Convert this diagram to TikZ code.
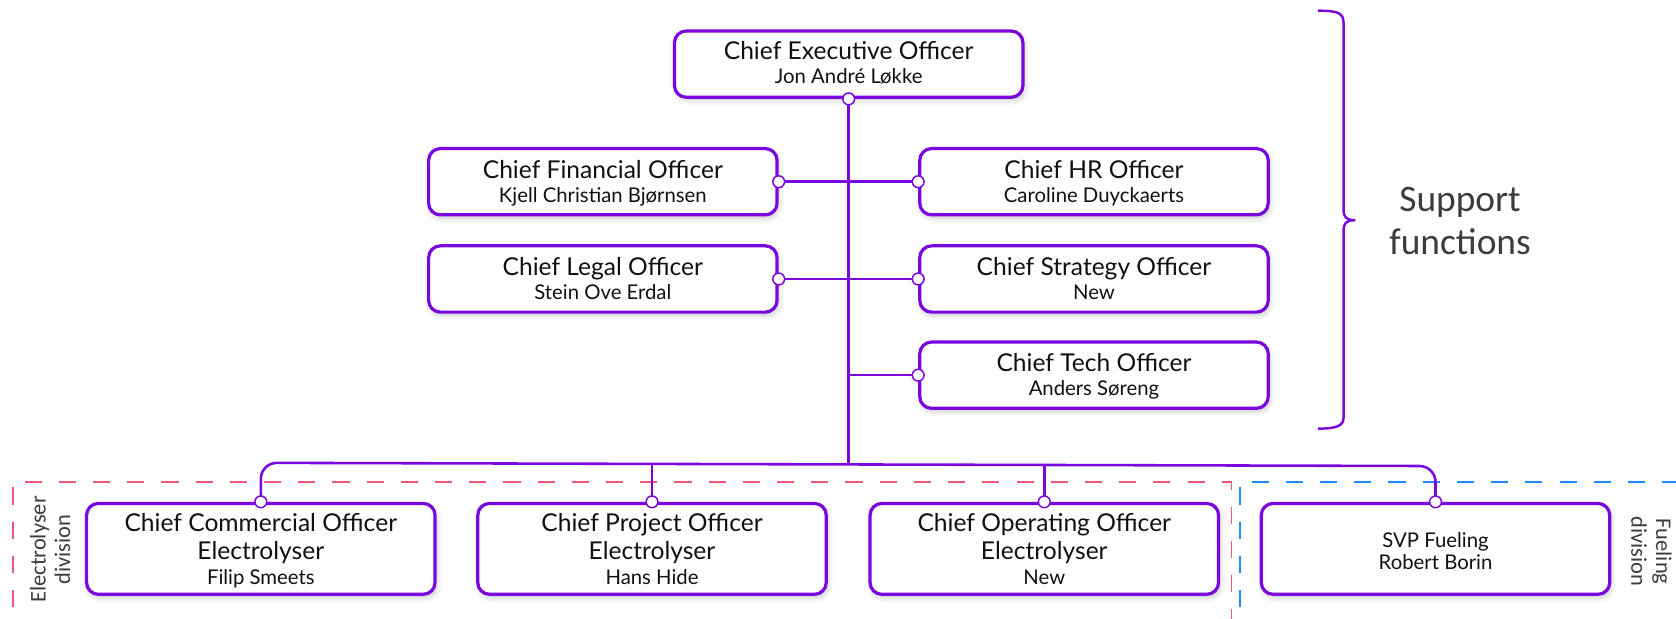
\documentclass[tikz,border=0pt]{standalone}
\usepackage{fontspec}
\setmainfont{Lato}
\newfontfamily\supfont{Carlito}
\usetikzlibrary{shadows.blur}
\definecolor{vio}{RGB}{122,8,222}
\definecolor{elred}{RGB}{238,88,120}
\definecolor{fuelblue}{RGB}{30,140,255}
\definecolor{txt}{RGB}{17,17,17}
\definecolor{lbl}{RGB}{60,60,60}
\begin{document}
\begin{tikzpicture}[x=1pt,y=-1pt,
  box/.style={draw=vio, line width=3pt, rounded corners=11pt, fill=white,
    minimum width=326pt, minimum height=62pt, inner sep=0pt,
    blur shadow={shadow xshift=1.5pt, shadow yshift=-3pt, shadow blur radius=5pt, shadow opacity=22}},
  ttl/.style={anchor=base, inner sep=0pt, text=txt, font=\fontsize{23}{27}\selectfont},
  nm/.style={anchor=base, inner sep=0pt, text=txt, font=\fontsize{19}{22}\selectfont},
  conn/.style={draw=vio, line width=2.4pt},
  dot/.style={circle, draw=vio, fill=white, line width=1.4pt, inner sep=0pt, minimum size=11pt},
  div/.style={dash pattern=on 16pt off 16pt, line width=1.5pt},
  divlbl/.style={align=center, text=lbl, font=\supfont\fontsize{21}{23}\selectfont, inner sep=0pt}]
\useasboundingbox (0,0) rectangle (1568,579);

% division frames
\draw[div, draw=elred] (12,600) -- (12,451) -- (1152,451) -- (1152,600);
\draw[div, draw=fuelblue] (1160,600) -- (1160,451) -- (1600,451);
\node[divlbl, rotate=90] (eldiv) at (47,514) {Electrolyser\\division};
\node[divlbl, rotate=-90] (fudiv) at (1545,516) {Fueling\\division};

% boxes
\node[box] (ceo) at (794,60) {};
\node[ttl] (ceot) at (794,56) {Chief Executive Officer};
\node[nm] (ceon) at (794,78) {Jon André Løkke};

\node[box] (cfo) at (564,170) {};
\node[ttl] (cfot) at (564,167) {Chief Financial Officer};
\node[nm] (cfon) at (564,189) {Kjell Christian Bjørnsen};

\node[box] (chro) at (1023.5,170) {};
\node[ttl] (chrot) at (1023.5,167) {Chief HR Officer};
\node[nm] (chron) at (1023.5,189) {Caroline Duyckaerts};

\node[box] (clo) at (564,261) {};
\node[ttl] (clot) at (564,258) {Chief Legal Officer};
\node[nm] (clon) at (564,280) {Stein Ove Erdal};

\node[box] (cso) at (1023.5,261) {};
\node[ttl] (csot) at (1023.5,258) {Chief Strategy Officer};
\node[nm] (cson) at (1023.5,280) {New};

\node[box] (cto) at (1023.5,351) {};
\node[ttl] (ctot) at (1023.5,348) {Chief Tech Officer};
\node[nm] (cton) at (1023.5,370) {Anders Søreng};

\node[box, minimum height=85pt] (cco) at (244,513.5) {};
\node[ttl] (ccot) at (244,497) {Chief Commercial Officer};
\node[ttl] (ccoe) at (244,523) {Electrolyser};
\node[nm] (ccon) at (244,547) {Filip Smeets};

\node[box, minimum height=85pt] (cpo) at (610,513.5) {};
\node[ttl] (cpot) at (610,497) {Chief Project Officer};
\node[ttl] (cpoe) at (610,523) {Electrolyser};
\node[nm] (cpon) at (610,547) {Hans Hide};

\node[box, minimum height=85pt] (coo) at (977,513.5) {};
\node[ttl] (coot) at (977,497) {Chief Operating Officer};
\node[ttl] (cooe) at (977,523) {Electrolyser};
\node[nm] (coon) at (977,547) {New};

\node[box, minimum height=85pt] (svp) at (1343,513.5) {};
\node[nm] (svpt) at (1343,512) {SVP Fueling};
\node[nm] (svpn) at (1343,533) {Robert Borin};

% connectors
\coordinate (busmid) at (ceo.south |- 0,434.6);
\draw[conn] (ceo.south) -- (busmid);
\draw[conn] (cfo.east) -- (chro.west);
\draw[conn] (clo.east) -- (cso.west);
\coordinate (ctoj) at (ceo.south |- cto.west);
\draw[conn] (ctoj) -- (cto.west);
\draw[conn, rounded corners=15pt] (cco.north) -- (244,433) -- (1343,436) -- (svp.north);
\coordinate (cpoj) at (cpo.north |- 0,434.2);
\coordinate (cooj) at (coo.north |- 0,435.2);
\draw[conn] (cpoj) -- (cpo.north);
\draw[conn] (cooj) -- (coo.north);

% dots
\foreach \p in {ceo.south, cfo.east, chro.west, clo.east, cso.west, cto.west,
  cco.north, cpo.north, coo.north, svp.north}
  \node[dot] at (\p) {};

% brace
\draw[vio, line width=2.3pt] (1233,10) .. controls (1252,10) and (1257,12) .. (1257,22)
  -- (1257,196) .. controls (1257,203) and (1259,206) .. (1268,206)
  .. controls (1259,206) and (1257,209) .. (1257,216)
  -- (1257,390) .. controls (1257,398) and (1252,401) .. (1233,401);
\node[align=center, text=lbl, font=\supfont\fontsize{35}{40}\selectfont, inner sep=0pt] (sup) at (1366,207) {Support\\functions};
\end{tikzpicture}
\end{document}
